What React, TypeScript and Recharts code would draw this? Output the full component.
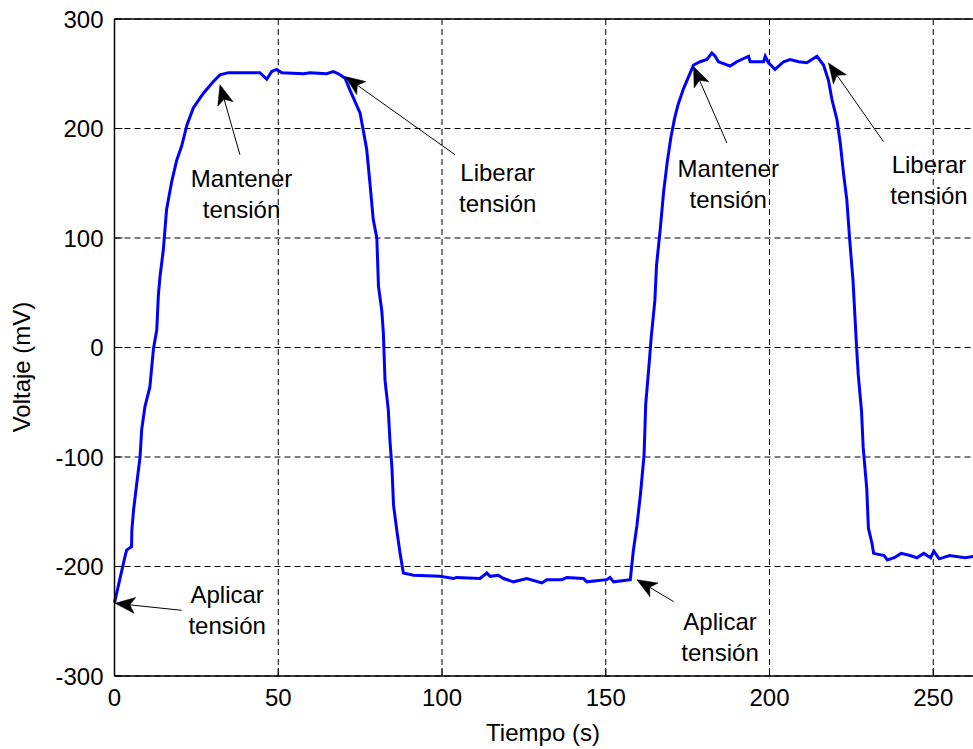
import React from 'react';
import { LineChart, Line, XAxis, YAxis, CartesianGrid, ReferenceLine, ReferenceDot } from 'recharts';

const tiempo = [
  0, 3.2, 3.7, 5.2, 5.3, 5.8, 6.8, 7.8, 8.3, 9.3,
  10.8, 11.9, 12.9, 13.4, 13.9, 14.9, 15.9, 17.5, 19.0, 20.5,
  22.1, 24.1, 27.1, 30.2, 32.2, 34.8, 44.4, 46.5, 48.0, 49.5,
  51.1, 57.7, 59.7, 64.8, 66.8, 68.4, 70.4, 71.9, 75.0, 77.0,
  78.0, 79.0, 80.1, 80.6, 81.6, 82.1, 82.6, 83.6, 84.1, 84.7,
  85.2, 86.2, 87.2, 88.2, 91.3, 99.4, 103.5, 104.5, 111.6, 113.7,
  114.7, 117.2, 118.8, 121.8, 125.9, 130.5, 132.0, 136.6, 138.1, 143.2,
  144.2, 150.3, 151.3, 152.4, 157.5, 158.4, 159.5, 160.6, 161.7, 162.2,
  163.3, 163.9, 165.0, 165.5, 166.6, 167.7, 168.8, 169.9, 171.0, 172.1,
  173.7, 175.4, 176.8, 178.8, 180.9, 182.4, 183.4, 184.4, 188.0, 190.0,
  193.6, 194.1, 198.2, 198.7, 199.7, 201.7, 204.3, 206.3, 208.9, 211.4,
  214.5, 216.5, 218.0, 219.1, 220.6, 221.6, 222.6, 223.6, 224.5, 225.5,
  226.6, 227.1, 228.1, 228.6, 229.7, 230.2, 231.3, 231.8, 235.0, 236.0,
  238.1, 240.2, 242.9, 245.0, 247.1, 249.2, 250.2, 251.8, 255.0, 259.7,
  264.0,
];

const voltaje = [
  -233, -191, -185, -182, -167, -149, -124, -100, -75, -54,
  -36, -1, 16, 48, 65, 89, 126, 152, 171, 184,
  203, 219, 232, 243, 249, 251, 251, 245, 252, 254,
  251, 250, 251, 250, 252, 250, 246, 235, 214, 181,
  150, 117, 100, 56, 34, 13, -30, -57, -85, -109,
  -144, -167, -188, -206, -208, -209, -211, -210, -211, -206,
  -209, -208, -211, -214, -211, -215, -212, -212, -210, -211,
  -214, -212, -210, -214, -212, -186, -163, -134, -98, -52,
  -13, 10, 43, 75, 107, 143, 170, 192, 209, 222,
  236, 248, 258, 261, 263, 269, 266, 261, 257, 261,
  266, 261, 261, 266, 260, 254, 261, 263, 261, 260,
  266, 258, 244, 226, 208, 187, 159, 135, 98, 61,
  0, -25, -58, -91, -129, -165, -179, -188, -190, -194,
  -192, -188, -190, -192, -188, -192, -186, -193, -190, -192,
  -190,
];

const xTicks = [0, 50, 100, 150, 200, 250];
const yTicks = [-300, -200, -100, 0, 100, 200, 300];

const annLine1 = ['Mantener', 'Liberar', 'Aplicar', 'Aplicar', 'Mantener', 'Liberar'];
const annLine2 = ['tensión', 'tensión', 'tensión', 'tensión', 'tensión', 'tensión'];
const annTextT = [38.8, 117, 34.4, 184.9, 187.4, 248.7];
const annTextV = [146.7, 152, -233, -258, 156, 159];
const annTipT = [32.2, 70.4, 0.15, 159.5, 176.8, 218];
const annTipV = [240, 247.5, -233.6, -212, 256.6, 259.8];
const annTailT = [38.3, 104, 20.5, 170.7, 187, 234.8];
const annTailV = [176, 176, -240, -232, 186.7, 188];

const data = tiempo.map((t, i) => ({ t, v: voltaje[i] }));

const FONT = '"Liberation Sans", Arial, Helvetica, sans-serif';
const FS = 24;

const Arrow = (props: any) => {
  const { x1, y1, x2, y2 } = props;
  const dx = x2 - x1;
  const dy = y2 - y1;
  const len = Math.hypot(dx, dy) || 1;
  const ux = dx / len;
  const uy = dy / len;
  const nx = -uy;
  const ny = ux;
  const hl = 20;
  const hw = 8;
  const bx = x2 - ux * hl;
  const by = y2 - uy * hl;
  const kx = x2 - ux * hl * 0.75;
  const ky = y2 - uy * hl * 0.75;
  const pts = [
    [x2, y2],
    [bx + nx * hw, by + ny * hw],
    [kx, ky],
    [bx - nx * hw, by - ny * hw],
  ]
    .map((p) => p.join(','))
    .join(' ');
  return (
    <g>
      <line x1={x1} y1={y1} x2={kx} y2={ky} stroke="#000" strokeWidth={1} />
      <polygon points={pts} fill="#000" stroke="#000" strokeWidth={0.5} />
    </g>
  );
};

const makeText = (i: number) => (p: any) => (
  <text x={p.cx} y={p.cy} textAnchor="middle" fontFamily={FONT} fontSize={FS} fill="#000">
    <tspan x={p.cx}>{annLine1[i]}</tspan>
    <tspan x={p.cx} dy={31}>{annLine2[i]}</tspan>
  </text>
);

const XLabel = () => (
  <text x={543} y={741} textAnchor="middle" fontFamily={FONT} fontSize={FS} fill="#000">
    Tiempo (s)
  </text>
);

const YLabel = () => (
  <text
    x={0}
    y={0}
    transform="translate(30,367) rotate(-90)"
    textAnchor="middle"
    fontFamily={FONT}
    fontSize={FS}
    fill="#000"
  >
    Voltaje (mV)
  </text>
);

export default function App() {
  return (
    <div
      style={{
        position: 'fixed',
        left: 0,
        top: 0,
        width: 973,
        height: 749,
        overflow: 'hidden',
        background: '#fff',
      }}
    >
      <LineChart
        width={1110}
        height={749}
        data={data}
        margin={{ top: 19, right: 13, left: 0, bottom: 0 }}
      >
        <CartesianGrid stroke="#000" strokeDasharray="6 4" strokeWidth={1} />
        <XAxis
          dataKey="t"
          type="number"
          domain={[0, 300]}
          ticks={xTicks}
          height={73}
          tickSize={-8}
          tickMargin={21}
          axisLine={{ stroke: '#000', strokeWidth: 1.5 }}
          tickLine={{ stroke: '#000' }}
          tick={{ fill: '#000', fontSize: FS, fontFamily: FONT }}
          interval={0}
          label={XLabel}
        />
        <YAxis
          type="number"
          domain={[-300, 300]}
          ticks={yTicks}
          width={114.5}
          tickSize={-8}
          tickMargin={19}
          axisLine={{ stroke: '#000', strokeWidth: 1.5 }}
          tickLine={{ stroke: '#000' }}
          tick={{ fill: '#000', fontSize: FS, fontFamily: FONT }}
          interval={0}
          label={YLabel}
        />
        <ReferenceLine y={300} stroke="#000" strokeWidth={1.5} />
        <Line
          dataKey="v"
          type="linear"
          stroke="#0000ff"
          strokeWidth={3}
          dot={false}
          isAnimationActive={false}
        />
        {annLine1.map((_, i) => (
          <ReferenceLine
            key={'a' + i}
            segment={[
              { x: annTailT[i], y: annTailV[i] },
              { x: annTipT[i], y: annTipV[i] },
            ]}
            stroke="#000"
            shape={Arrow}
          />
        ))}
        {annLine1.map((_, i) => (
          <ReferenceDot
            key={'t' + i}
            x={annTextT[i]}
            y={annTextV[i]}
            r={0}
            shape={makeText(i)}
          />
        ))}
      </LineChart>
    </div>
  );
}
